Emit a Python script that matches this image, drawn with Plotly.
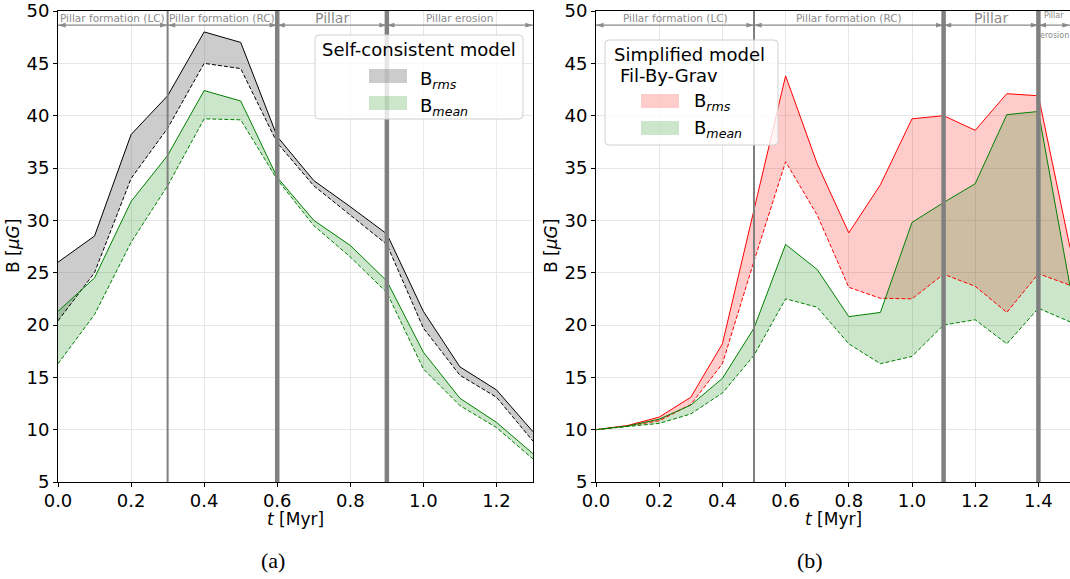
import plotly.graph_objects as go

# ---------------- data ----------------
t_a = [0.0, 0.1, 0.2, 0.3, 0.4, 0.5, 0.6, 0.7, 0.8, 0.9, 1.0, 1.1, 1.2, 1.3]
rms_up_a = [26.0, 28.5, 38.2, 41.9, 48.0, 47.0, 38.0, 33.8, 31.3, 28.7, 21.3, 16.0, 13.8, 9.8]
rms_lo_a = [20.4, 25.0, 34.0, 38.8, 45.0, 44.5, 37.4, 33.3, 30.5, 27.7, 19.7, 15.2, 13.1, 8.9]
mean_up_a = [21.3, 24.5, 31.8, 36.2, 42.4, 41.4, 34.1, 30.0, 27.6, 24.2, 17.4, 13.0, 10.7, 7.7]
mean_lo_a = [16.3, 21.0, 27.9, 33.3, 39.7, 39.6, 33.9, 29.5, 26.5, 23.1, 15.8, 12.3, 10.2, 7.2]

t_b = [0.0, 0.1, 0.2, 0.3, 0.4, 0.5, 0.6, 0.7, 0.8, 0.9, 1.0, 1.1, 1.2, 1.3, 1.4, 1.5]
rms_up_b = [10.0, 10.4, 11.2, 13.1, 18.2, 30.9, 43.8, 35.4, 28.8, 33.4, 39.7, 40.0, 38.6, 42.1, 41.9, 27.4]
rms_lo_b = [10.0, 10.35, 10.85, 12.4, 16.3, 26.1, 35.6, 30.5, 23.6, 22.55, 22.5, 24.85, 23.7, 21.2, 24.9, 23.8]
mean_up_b = [10.0, 10.35, 11.0, 12.35, 14.9, 19.7, 27.7, 25.3, 20.8, 21.2, 29.8, 31.7, 33.5, 40.1, 40.4, 23.7]
mean_lo_b = [10.0, 10.3, 10.6, 11.5, 13.5, 17.1, 22.5, 21.7, 18.2, 16.3, 17.0, 20.0, 20.5, 18.2, 21.6, 20.3]

phase_a = [0.0, 0.3, 0.6, 0.9, 1.3]
phase_labels_a = ["Pillar formation (LC)", "Pillar formation (RC)", "Pillar", "Pillar erosion"]
phase_b = [0.0, 0.5, 1.1, 1.4, 1.5]
phase_labels_b = ["Pillar formation (LC)", "Pillar formation (RC)", "Pillar", "Pillar|erosion"]

y_ticks = [5, 10, 15, 20, 25, 30, 35, 40, 45, 50]

# ---------------- styling ----------------
FONT = "DejaVu Sans"
GRAY_FILL = "rgba(128,128,128,0.4)"
GREEN_FILL = "rgba(0,128,0,0.2)"
RED_FILL = "rgba(255,0,0,0.2)"
GREEN = "#008000"
RED = "#ff0000"
DASH = "4px,2px"
PHASE_GRAY = "#8a8a8a"

# pixel geometry helpers
PL, PR, PT, PB = 58, 1070, 11, 482


def px(x):
    return (x - PL) / (PR - PL)


def py(y):
    return (PB - y) / (PB - PT)


fig = go.Figure()


def band(t, up, lo, color, xa, ya):
    fig.add_trace(go.Scatter(
        x=list(t) + list(t)[::-1], y=list(up) + list(lo)[::-1],
        fill="toself", fillcolor=color, mode="lines", line=dict(width=0),
        hoverinfo="skip", xaxis=xa, yaxis=ya, showlegend=False))


def line(t, y, color, dash, xa, ya):
    fig.add_trace(go.Scatter(
        x=t, y=y, mode="lines", line=dict(color=color, width=1, dash=dash),
        xaxis=xa, yaxis=ya, showlegend=False))


# panel (a)
band(t_a, rms_up_a, rms_lo_a, GRAY_FILL, "x", "y")
band(t_a, mean_up_a, mean_lo_a, GREEN_FILL, "x", "y")
line(t_a, rms_up_a, "black", "solid", "x", "y")
line(t_a, rms_lo_a, "black", DASH, "x", "y")
line(t_a, mean_up_a, GREEN, "solid", "x", "y")
line(t_a, mean_lo_a, GREEN, DASH, "x", "y")

# panel (b)
band(t_b, rms_up_b, rms_lo_b, RED_FILL, "x2", "y2")
band(t_b, mean_up_b, mean_lo_b, GREEN_FILL, "x2", "y2")
line(t_b, rms_up_b, RED, "solid", "x2", "y2")
line(t_b, rms_lo_b, RED, DASH, "x2", "y2")
line(t_b, mean_up_b, GREEN, "solid", "x2", "y2")
line(t_b, mean_lo_b, GREEN, DASH, "x2", "y2")

shapes = []
annotations = []

# phase separators (thin for first, thick for others)
for phases, xr, yr in ((phase_a, "x", "y domain"), (phase_b, "x2", "y2 domain")):
    for i, xv in enumerate(phases[1:-1]):
        w = 2 if i == 0 else 4.5
        shapes.append(dict(type="line", xref=xr, yref=yr, x0=xv, x1=xv, y0=0, y1=1,
                           line=dict(color="#808080", width=w), layer="above"))

ARROW_Y = 48.65
LABEL_Y = 49.35
for phases, labels, xa, ya in ((phase_a, phase_labels_a, "x", "y"),
                               (phase_b, phase_labels_b, "x2", "y2")):
    for i, lab in enumerate(labels):
        x0, x1 = phases[i], phases[i + 1]
        # double-headed arrow
        fig.add_trace(go.Scatter(
            x=[x0, x1], y=[ARROW_Y, ARROW_Y], mode="lines+markers",
            line=dict(color=PHASE_GRAY, width=1.2),
            marker=dict(symbol="arrow", angle=[270, 90], size=8, color=PHASE_GRAY,
                        line=dict(width=0)),
            xaxis=xa, yaxis=ya, showlegend=False, hoverinfo="skip", cliponaxis=False))
        if "|" in lab:
            top, bot = lab.split("|")
            for s, yv in ((top, 49.6), (bot, 47.7)):
                annotations.append(dict(
                    x=(x0 + x1) / 2, y=yv, xref=xa, yref=ya, text=s, showarrow=False,
                    font=dict(family=FONT, size=8, color=PHASE_GRAY), yanchor="middle",
                    xanchor="center"))
            continue
        size = 14 if lab == "Pillar" else 10.5
        annotations.append(dict(
            x=(x0 + x1) / 2, y=LABEL_Y, xref=xa, yref=ya, text=lab, showarrow=False,
            font=dict(family=FONT, size=size, color=PHASE_GRAY), yanchor="middle",
            xanchor="center"))

# ---------------- manual legends ----------------

def rounded_box(x0, y0, x1, y1, r):
    pts = (f"M {px(x0 + r)},{py(y0)} L {px(x1 - r)},{py(y0)} "
           f"Q {px(x1)},{py(y0)} {px(x1)},{py(y0 + r)} "
           f"L {px(x1)},{py(y1 - r)} Q {px(x1)},{py(y1)} {px(x1 - r)},{py(y1)} "
           f"L {px(x0 + r)},{py(y1)} Q {px(x0)},{py(y1)} {px(x0)},{py(y1 - r)} "
           f"L {px(x0)},{py(y0 + r)} Q {px(x0)},{py(y0)} {px(x0 + r)},{py(y0)} Z")
    return dict(type="path", xref="paper", yref="paper", path=pts,
                fillcolor="rgba(255,255,255,0.8)", line=dict(color="#d0d0d0", width=1),
                layer="above")


def swatch(x0, y0, x1, y1, color):
    return dict(type="rect", xref="paper", yref="paper", x0=px(x0), x1=px(x1),
                y0=py(y1), y1=py(y0), fillcolor=color, line=dict(width=0), layer="above")


def text(x, y, s, size=18, xanchor="left"):
    return dict(x=px(x), y=py(y), xref="paper", yref="paper", text=s, showarrow=False,
                xanchor=xanchor, yanchor="middle", borderpad=0,
                font=dict(family=FONT, size=size, color="black"))


B_RMS = "B<sub><i>rms</i></sub>"
B_MEAN = "B<sub><i>mean</i></sub>"

# legend (a)
shapes.append(rounded_box(315, 35, 523, 119, 4))
shapes.append(swatch(369, 69, 407, 83, GRAY_FILL))
shapes.append(swatch(369, 96, 407, 110, GREEN_FILL))
annotations.append(text(419, 50, "Self-consistent model", xanchor="center"))
annotations.append(text(419, 80, B_RMS))
annotations.append(text(419, 107, B_MEAN))

# legend (b)
shapes.append(rounded_box(605, 40, 778, 145, 4))
shapes.append(swatch(641, 94, 679, 108, RED_FILL))
shapes.append(swatch(641, 121, 679, 135, GREEN_FILL))
annotations.append(text(613, 55, "Simplified model"))
annotations.append(text(619, 76, "Fil-By-Grav"))
annotations.append(text(693, 102, B_RMS))
annotations.append(text(693, 129, B_MEAN))

# axis titles
for xc in (295, 833):
    annotations.append(text(xc, 519, "<i>t</i> [Myr]", size=17, xanchor="center"))
for xc in (13, 551):
    a = text(xc, 246, "B [<i>μG</i>]", size=17, xanchor="center")
    a["textangle"] = -90
    annotations.append(a)

# panel captions
for xc, s in ((273, "(a)"), (810, "(b)")):
    annotations.append(dict(x=px(xc), y=py(560), xref="paper", yref="paper", text=s,
                            showarrow=False, xanchor="center", yanchor="middle",
                            font=dict(family="Liberation Serif", size=22, color="black")))

axis_common = dict(showline=True, mirror=True, linecolor="black", linewidth=1,
                   ticks="outside", ticklen=4, tickcolor="black",
                   tickfont=dict(family=FONT, size=18, color="black"),
                   showgrid=True, gridcolor="#e6e6e6", gridwidth=1, zeroline=False)

fig.update_layout(
    width=1070, height=579,
    margin=dict(l=PL, r=0, t=PT, b=579 - PB),
    paper_bgcolor="white", plot_bgcolor="white",
    showlegend=False,
    font=dict(family=FONT),
    xaxis=dict(domain=[0, px(533)], range=[0, 1.3], anchor="y", ticklabelstandoff=-2,
               tickvals=[0.0, 0.2, 0.4, 0.6, 0.8, 1.0, 1.2], tickformat=".1f", **axis_common),
    yaxis=dict(domain=[0, 1], range=[5, 50], anchor="x", tickvals=y_ticks, **axis_common),
    xaxis2=dict(domain=[px(596), 1], range=[0, 1.5], anchor="y2", ticklabelstandoff=-2,
                tickvals=[0.0, 0.2, 0.4, 0.6, 0.8, 1.0, 1.2, 1.4], tickformat=".1f", **axis_common),
    yaxis2=dict(domain=[0, 1], range=[5, 50], anchor="x2", tickvals=y_ticks, **axis_common),
    shapes=shapes,
    annotations=annotations,
)

fig.write_html("out.html")
